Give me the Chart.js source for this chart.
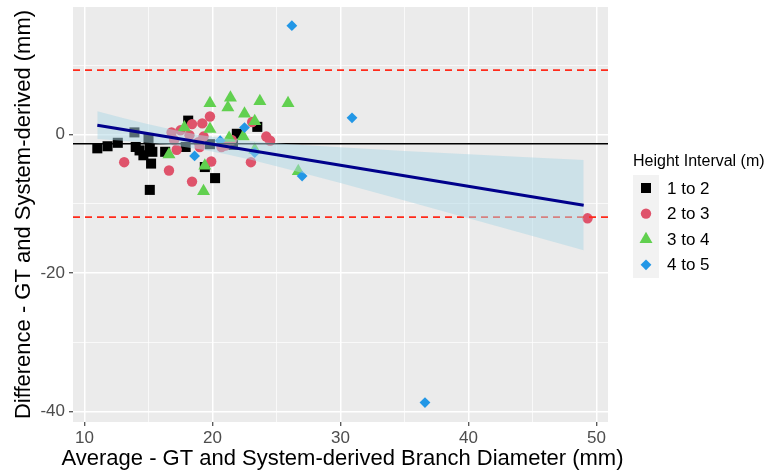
<!DOCTYPE html>
<html>
<head>
<meta charset="utf-8">
<script src="https://cdn.jsdelivr.net/npm/chart.js@4.4.1/dist/chart.umd.min.js"></script>
<style>
  html, body { margin: 0; padding: 0; background: #ffffff; }
  #wrap { width: 768px; height: 472px; }
</style>
</head>
<body>
<div id="wrap"><canvas id="chart" width="768" height="472"></canvas></div>
<script>
// Bland-Altman comparison of branch diameters, grouped by height interval.

const heightIntervals = ['1 to 2', '2 to 3', '3 to 4', '4 to 5'];
const legendTitle = 'Height Interval (m)';
const xTitle = 'Average - GT and System-derived Branch Diameter (mm)';
const yTitle = 'Difference - GT and System-derived (mm)';

// [average diameter (mm), difference (mm)] per height interval
const group1to2 = [
  [11.0, -2.0], [11.8, -1.7], [12.6, -1.2], [13.9, 0.3], [15.0, -0.5], [14.0, -1.8],
  [14.3, -2.3], [14.6, -3.0], [15.1, -2.0], [15.2, -4.2], [15.3, -2.5], [15.1, -8.0],
  [16.3, -2.5], [18.1, 2.0], [17.9, -1.8], [19.4, -4.7], [20.2, -6.3], [19.8, -1.4],
  [21.6, -1.5], [21.9, 0.1], [23.5, 1.1]
];
const group2to3 = [
  [13.1, -4.0], [16.6, -5.2], [18.4, -6.8], [16.8, 0.3], [17.0, -0.8], [17.2, -2.2],
  [17.5, 0.6], [18.2, -0.1], [18.4, 1.5], [19.2, 1.6], [19.8, 2.6], [18.9, -1.1],
  [19.3, -0.3], [19.0, -1.8], [19.9, -3.9], [20.7, -1.8], [21.0, -1.6], [21.5, -0.8],
  [23.1, 1.8], [23.0, -4.0], [24.2, -0.3], [24.5, -0.9], [49.3, -12.1]
];
const group3to4 = [
  [19.8, 4.5], [21.2, 3.9], [21.4, 5.3], [22.5, 3.0], [23.7, 4.8], [25.9, 4.5],
  [19.8, 0.8], [17.8, 1.0], [16.6, -2.9], [19.4, -4.5], [19.3, -8.2], [21.3, -0.5],
  [22.4, -0.3], [23.3, 1.9], [23.3, -2.2], [26.7, -5.3]
];
const group4to5 = [
  [26.2, 15.7], [30.9, 2.4], [36.6, -38.7], [27.0, -6.0], [18.6, -3.1], [22.5, 1.0],
  [20.6, -0.9], [23.3, -2.6]
];

// Mean bias and limits of agreement (mm)
const biasMean = -1.33;
const loaUpper = 9.28;
const loaLower = -11.93;

// Linear fit of difference on average, with its 95% confidence band
const fitX = [11, 49];
const fitY = [1.34, -10.2];
const bandX =     [11,    13,    15,    17,    19,    21,    23,    26,    30,    35,    40,     45,     49];
const bandUpper = [3.34,  2.38,  1.47,  0.64, -0.06, -0.58, -0.96, -1.40, -1.86, -2.38, -2.86,  -3.32,  -3.70];
const bandLower = [-0.66, -0.92, -1.21, -1.60, -2.12, -2.82, -3.64, -5.04, -7.00, -9.52, -12.08, -14.64, -16.70];

// Axis breaks and tick labels
const xBreaks = [10, 15, 20, 25, 30, 35, 40, 45, 50];
const xMajorBreaks = [10, 20, 30, 40, 50];
const xTickLabels = ['10', '20', '30', '40', '50'];
const yBreaks = [-40, -30, -20, -10, 0, 10];
const yMajorBreaks = [-40, -20, 0];
const yTickLabels = ['-40', '-20', '0'];

const FONT = "'Liberation Sans', Arial, Helvetica, sans-serif";

const groupStyles = [
  { color: '#000000', pointStyle: 'rect',     radius: 7.1 },
  { color: '#DF536B', pointStyle: 'circle',   radius: 5.2 },
  { color: '#61D04F', pointStyle: 'triangle', radius: 7.5 },
  { color: '#2297E6', pointStyle: 'rectRot',  radius: 5.4 }
];
const groups = [group1to2, group2to3, group3to4, group4to5];

const toPoints = (pairs) => pairs.map(([x, y]) => ({ x, y }));
const xLimits = [9.1, 50.9];
const yLimits = [-41.5, 18.4];

const pointDatasets = groups.map((g, i) => ({
  label: heightIntervals[i],
  data: toPoints(g),
  pointStyle: groupStyles[i].pointStyle,
  pointRadius: groupStyles[i].radius,
  pointHoverRadius: groupStyles[i].radius,
  backgroundColor: groupStyles[i].color,
  borderColor: groupStyles[i].color,
  pointBorderWidth: 0,
  showLine: false,
  order: 6 - i
}));

const hline = (value, color, width, dash) => ({
  data: [{ x: xLimits[0], y: value }, { x: xLimits[1], y: value }],
  showLine: true,
  borderColor: color,
  borderWidth: width,
  borderDash: dash,
  pointRadius: 0,
  fill: false,
  order: 2
});

const datasets = [
  {
    data: fitX.map((x, i) => ({ x, y: fitY[i] })),
    showLine: true,
    borderColor: '#00008B',
    borderWidth: 3,
    pointRadius: 0,
    fill: false,
    order: 0
  },
  {
    data: bandX.map((x, i) => ({ x, y: bandUpper[i] })),
    showLine: true,
    borderWidth: 0,
    borderColor: 'rgba(0,0,0,0)',
    pointRadius: 0,
    fill: '+1',
    backgroundColor: 'rgba(173,216,230,0.5)',
    order: 1
  },
  {
    data: bandX.map((x, i) => ({ x, y: bandLower[i] })),
    showLine: true,
    borderWidth: 0,
    borderColor: 'rgba(0,0,0,0)',
    pointRadius: 0,
    fill: false,
    order: 1
  },
  hline(biasMean, '#000000', 1.4, []),
  hline(loaUpper, '#FF2A1A', 1.7, [7, 5]),
  hline(loaLower, '#FF2A1A', 1.7, [7, 5]),
  ...pointDatasets
];

const panelBackground = {
  id: 'panelBackground',
  beforeDraw(chart) {
    const { ctx, chartArea: a } = chart;
    ctx.save();
    ctx.fillStyle = '#EBEBEB';
    ctx.fillRect(a.left, a.top, a.right - a.left, a.bottom - a.top);
    ctx.restore();
  }
};

// The x title is wider than the panel, so it is drawn here at full width
const xAxisTitle = {
  id: 'xAxisTitle',
  afterDraw(chart) {
    const ctx = chart.ctx;
    const a = chart.chartArea;
    ctx.save();
    ctx.fillStyle = '#000000';
    ctx.font = '22px ' + FONT;
    ctx.textAlign = 'center';
    ctx.textBaseline = 'alphabetic';
    ctx.fillText(xTitle, (a.left + a.right) / 2 + 2, 465);
    ctx.restore();
  }
};

const heightLegend = {
  id: 'heightLegend',
  afterDraw(chart) {
    const ctx = chart.ctx;
    ctx.save();
    ctx.fillStyle = '#000000';
    ctx.textAlign = 'left';
    ctx.textBaseline = 'alphabetic';
    ctx.font = '16px ' + FONT;
    ctx.fillText(legendTitle, 633, 166);
    ctx.fillStyle = '#F2F2F2';
    ctx.fillRect(633, 175, 26, 103);
    heightIntervals.forEach((label, i) => {
      const y = 188 + i * 25.6;
      const st = groupStyles[i];
      ctx.fillStyle = st.color;
      Chart.helpers.drawPoint(ctx, { pointStyle: st.pointStyle, radius: st.radius, borderWidth: 0, rotation: 0 }, 646, y);
      ctx.fillStyle = '#000000';
      ctx.font = '17px ' + FONT;
      ctx.textBaseline = 'middle';
      ctx.fillText(label, 667, y + 1);
    });
    ctx.restore();
  }
};

const isMajor = (list) => (ctx) => ctx.tick && list.includes(ctx.tick.value);

new Chart(document.getElementById('chart'), {
  type: 'scatter',
  data: { datasets },
  plugins: [panelBackground, xAxisTitle, heightLegend],
  options: {
    responsive: false,
    animation: false,
    events: [],
    layout: { padding: { left: 0, top: 7, right: 160, bottom: 0 }, autoPadding: false },
    plugins: { legend: { display: false }, tooltip: { enabled: false } },
    scales: {
      x: {
        type: 'linear',
        min: xLimits[0],
        max: xLimits[1],
        afterBuildTicks: (s) => { s.ticks = xBreaks.map((v) => ({ value: v })); },
        afterFit: (s) => { s.height = 50; s.paddingLeft = 0; s.paddingRight = 0; s.paddingTop = 0; s.paddingBottom = 0; },
        border: { display: false },
        grid: {
          color: '#FFFFFF',
          lineWidth: (ctx) => (isMajor(xMajorBreaks)(ctx) ? 1.5 : 0.7),
          tickColor: (ctx) => (isMajor(xMajorBreaks)(ctx) ? '#333333' : 'rgba(0,0,0,0)'),
          tickWidth: 1.1,
          tickLength: 4
        },
        ticks: {
          autoSkip: false,
          maxRotation: 0,
          padding: 2,
          color: '#4D4D4D',
          font: { family: FONT, size: 17 },
          callback: (v) => { const i = xMajorBreaks.indexOf(v); return i >= 0 ? xTickLabels[i] : ''; }
        },
        title: { display: false }
      },
      y: {
        type: 'linear',
        min: yLimits[0],
        max: yLimits[1],
        afterBuildTicks: (s) => { s.ticks = yBreaks.map((v) => ({ value: v })); },
        afterFit: (s) => { s.width = 73; s.paddingLeft = 0; s.paddingRight = 0; s.paddingTop = 0; s.paddingBottom = 0; },
        border: { display: false },
        grid: {
          color: '#FFFFFF',
          lineWidth: (ctx) => (isMajor(yMajorBreaks)(ctx) ? 1.5 : 0.7),
          tickColor: (ctx) => (isMajor(yMajorBreaks)(ctx) ? '#333333' : 'rgba(0,0,0,0)'),
          tickWidth: 1.1,
          tickLength: 4
        },
        ticks: {
          autoSkip: false,
          padding: 4,
          color: '#4D4D4D',
          font: { family: FONT, size: 17 },
          callback: (v) => { const i = yMajorBreaks.indexOf(v); return i >= 0 ? yTickLabels[i] : ''; }
        },
        title: {
          display: true,
          text: yTitle,
          color: '#000000',
          font: { family: FONT, size: 22 },
          padding: { top: 11, bottom: 0 }
        }
      }
    }
  }
});
</script>
</body>
</html>
